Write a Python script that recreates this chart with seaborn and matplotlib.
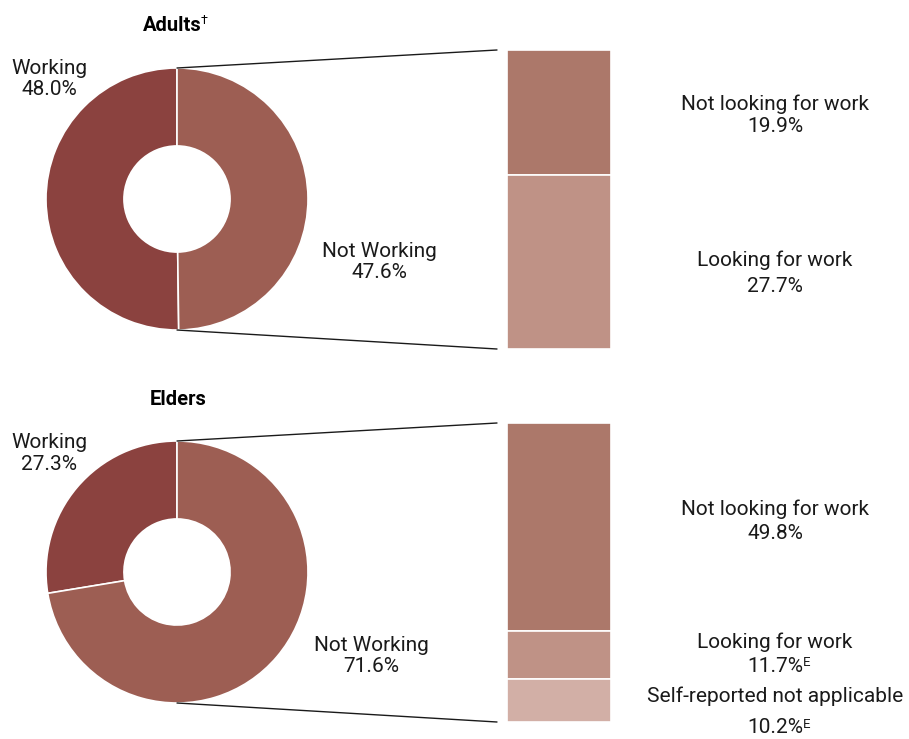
import matplotlib
matplotlib.use("Agg")
import matplotlib.pyplot as plt
from matplotlib.patches import ConnectionPatch
import seaborn as sns

# Employment status shares (%)
group_titles = ["Adults", "Elders"]
group_marks = ["†", ""]
pie_labels = ["Working", "Not Working"]
adults_pie = [48.0, 47.6]
elders_pie = [27.3, 71.6]

# Breakdown of "Not Working"
adults_bar_labels = ["Not looking for work", "Looking for work"]
adults_bar = [19.9, 27.7]
adults_bar_flags = ["", ""]
elders_bar_labels = ["Not looking for work", "Looking for work",
                     "Self-reported not applicable"]
elders_bar = [49.8, 11.7, 10.2]
elders_bar_flags = ["", "E", "E"]

sns.set_theme(style="white")
plt.rcParams["font.family"] = ["Roboto", "DejaVu Sans"]

pie_colors = sns.color_palette(["#8B423F", "#9D5E53"])
bar_colors = sns.color_palette(["#AC786A", "#BF9286", "#D2AFA6"])
TEXT = "#1a1a1a"

W, H = 909, 739
fig = plt.figure(figsize=(W / 100, H / 100), dpi=100)


def fx(x):
    return x / W


def fy(y):
    return 1 - y / H


def box(x0, y0, x1, y1):
    return [fx(x0), fy(y1), fx(x1) - fx(x0), fy(y0) - fy(y1)]


FS = 15
SUP_FS = 9.5


def two_lines(x, y1, y2, top, bottom, flag=""):
    """Two centred lines at given pixel baselines, optional superscript."""
    fig.text(fx(x), fy(y1), top, ha="center", va="baseline",
             fontsize=FS, color=TEXT)
    t = fig.text(fx(x), fy(y2), bottom, ha="center", va="baseline",
                 fontsize=FS, color=TEXT)
    if flag:
        fig.add_artist(plt.Annotation(
            flag, xy=(1, fy(y2 - 5.5)), xycoords=(t, "figure fraction"),
            xytext=(-0.3, 0), textcoords="offset points",
            ha="left", va="baseline", fontsize=SUP_FS, color=TEXT))


panels = [
    dict(title=group_titles[0], mark=group_marks[0], title_x=172, title_y=31,
         pie=adults_pie, bar=adults_bar, bar_labels=adults_bar_labels,
         flags=adults_bar_flags, top=50,
         w_lines=(74, 95), nw_x=379, nw_lines=(257, 278),
         bar_lines=[(110, 132), (266, 292)]),
    dict(title=group_titles[1], mark=group_marks[1], title_x=178, title_y=405,
         pie=elders_pie, bar=elders_bar, bar_labels=elders_bar_labels,
         flags=elders_bar_flags, top=423,
         w_lines=(448, 470), nw_x=371, nw_lines=(651, 672),
         bar_lines=[(515, 539), (648, 672), (702, 733)]),
]

for p in panels:
    top = p["top"]
    cx, cy, r = 177, top + 149, 131

    # Donut
    ax_pie = fig.add_axes(box(cx - r, cy - r, cx + r, cy + r))
    ax_pie.pie(p["pie"], colors=pie_colors, startangle=90, counterclock=True,
               wedgeprops=dict(width=0.595, edgecolor="white", linewidth=1.2))
    ax_pie.set_xlim(-1, 1)
    ax_pie.set_ylim(-1, 1)
    ax_pie.set_aspect("equal")
    ax_pie.axis("off")

    # Stacked bar breakdown of the "Not Working" share
    ax_bar = fig.add_axes(box(507, top, 611, top + 299))
    total = sum(p["bar"])
    bottom = 0
    for v, c in zip(p["bar"], bar_colors):
        ax_bar.bar(0, v, bottom=bottom, width=1, color=c,
                   edgecolor="white", linewidth=1.2)
        bottom += v
    ax_bar.set_xlim(-0.5, 0.5)
    ax_bar.set_ylim(total, 0)
    ax_bar.axis("off")

    # Connector lines from the donut to the bar
    off = -10 / 104
    for ya, yb in [(1, 1), (-1, 0)]:
        con = ConnectionPatch(xyA=(0, ya), coordsA=ax_pie.transData,
                              xyB=(off, yb), coordsB=ax_bar.transAxes,
                              color="#1a1a1a", linewidth=1.0)
        fig.add_artist(con)

    # Title
    t = fig.text(fx(p["title_x"]), fy(p["title_y"]), p["title"],
                 ha="center", va="baseline", fontsize=14.5,
                 fontweight="bold", color="black")
    if p["mark"]:
        fig.add_artist(plt.Annotation(
            p["mark"], xy=(1, fy(p["title_y"] - 7)),
            xycoords=(t, "figure fraction"), xytext=(-0.5, 0),
            textcoords="offset points", ha="left", va="baseline",
            fontsize=9, color="black"))

    # Donut labels
    two_lines(49.5, *p["w_lines"], pie_labels[0], f"{p['pie'][0]:.1f}%")
    two_lines(p["nw_x"], *p["nw_lines"], pie_labels[1], f"{p['pie'][1]:.1f}%")

    # Bar labels
    for lab, v, flag, (y1, y2) in zip(p["bar_labels"], p["bar"], p["flags"],
                                      p["bar_lines"]):
        two_lines(775, y1, y2, lab, f"{v:.1f}%", flag)

fig.savefig("out.png", dpi=100, facecolor="white")
